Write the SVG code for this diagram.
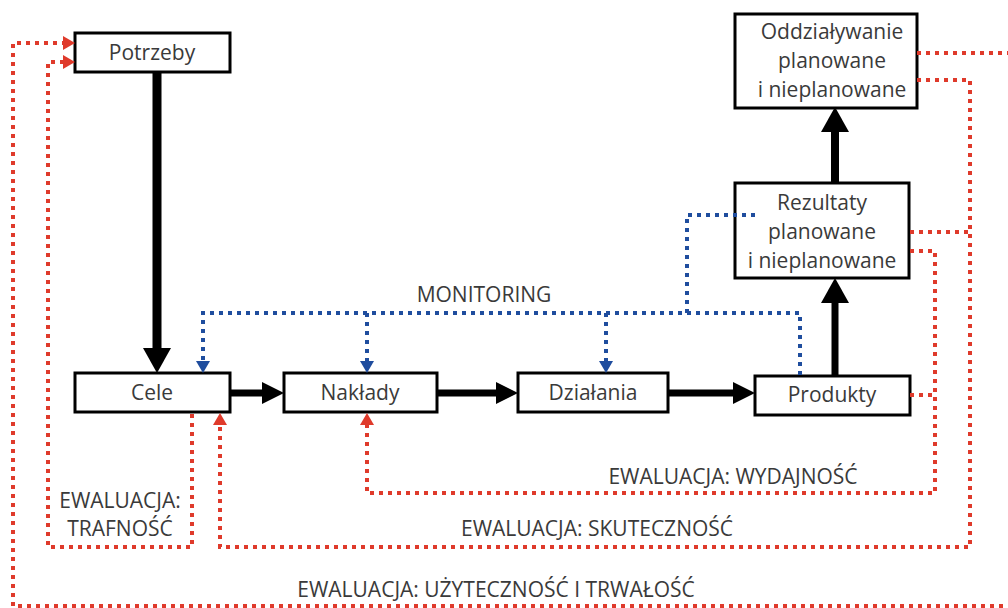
<svg xmlns="http://www.w3.org/2000/svg" width="1008" height="608" viewBox="0 0 1008 608">
<style>
.box{fill:#fff;stroke:#000;stroke-width:3}
.t{font-family:"Open Sans","Noto Sans",sans-serif;font-size:21px;fill:#3a3a3a;text-anchor:middle}
.blk{stroke:#000;fill:none}
.red{stroke:#df3a2b;stroke-width:4;stroke-dasharray:4 5;fill:none}
.blue{stroke:#1f4d9e;stroke-width:4;stroke-dasharray:4 5;fill:none}
</style>
<defs>
<marker id="ahV" markerUnits="userSpaceOnUse" markerWidth="25" markerHeight="28" viewBox="0 0 25 28" refX="0" refY="14" orient="auto"><path d="M0,0 L25,14 L0,28 z" fill="#000"/></marker>
<marker id="ahH" markerUnits="userSpaceOnUse" markerWidth="22" markerHeight="22" viewBox="0 0 22 22" refX="0" refY="11" orient="auto"><path d="M0,0 L22,11 L0,22 z" fill="#000"/></marker>
<marker id="ahR" markerUnits="userSpaceOnUse" markerWidth="12" markerHeight="14" viewBox="0 0 12 14" refX="0" refY="7" orient="auto"><path d="M0,0 L12,7 L0,14 z" fill="#df3a2b"/></marker>
<marker id="ahB" markerUnits="userSpaceOnUse" markerWidth="12" markerHeight="14" viewBox="0 0 12 14" refX="0" refY="7" orient="auto"><path d="M0,0 L12,7 L0,14 z" fill="#1f4d9e"/></marker>
</defs>
<rect width="1008" height="608" fill="#fff"/>
<g id="potrzeby"><rect class="box" x="75" y="33" width="155" height="39"/><text class="t" x="152" y="60">Potrzeby</text></g>
<g id="cele"><rect class="box" x="75" y="373" width="155" height="39"/><text class="t" x="152" y="400">Cele</text></g>
<g id="naklady"><rect class="box" x="284" y="373" width="153" height="39"/><text class="t" x="360" y="400">Nakłady</text></g>
<g id="dzialania"><rect class="box" x="518" y="373" width="150" height="39"/><text class="t" x="593" y="400">Działania</text></g>
<g id="produkty"><rect class="box" x="755" y="376" width="155" height="39"/><text class="t" x="832" y="402">Produkty</text></g>
<g id="rezultaty"><rect class="box" x="735" y="183" width="174" height="95"/><text class="t" x="822" y="210">Rezultaty</text><text class="t" x="822" y="239">planowane</text><text class="t" x="822" y="268">i nieplanowane</text></g>
<g id="oddzialywanie"><rect class="box" x="735" y="14" width="182" height="94"/><text class="t" x="832" y="39">Oddziaływanie</text><text class="t" x="832" y="68">planowane</text><text class="t" x="832" y="97">i nieplanowane</text></g>
<g id="connectors">
<path class="blk" stroke-width="9" d="M157,72 V348" marker-end="url(#ahV)"/>
<path class="blk" stroke-width="7" d="M230,393 H262" marker-end="url(#ahH)"/>
<path class="blk" stroke-width="7" d="M437,393 H496" marker-end="url(#ahH)"/>
<path class="blk" stroke-width="7" d="M668,393 H733" marker-end="url(#ahH)"/>
<path class="blk" stroke-width="7" d="M835,376 V303" marker-end="url(#ahV)"/>
<path class="blk" stroke-width="8" d="M835,183 V132" marker-end="url(#ahV)"/>
<path class="blue" d="M800,375 V313 H203 V361" marker-end="url(#ahB)"/>
<path class="blue" d="M367,313 V361" marker-end="url(#ahB)"/>
<path class="blue" d="M606,313 V361" marker-end="url(#ahB)"/>
<path class="blue" d="M687,313 V215 H757"/>
<path class="red" d="M192,414 V547 H48 V62 H63" marker-end="url(#ahR)"/>
<path class="red" d="M917,53 H1012 V606 H13 V43 H63" marker-end="url(#ahR)"/>
<path class="red" d="M917,80 H970 V547 H220 V425" marker-end="url(#ahR)"/>
<path class="red" d="M910,232 H970"/>
<path class="red" d="M910,251 H935 V493 H367 V425" marker-end="url(#ahR)"/>
<path class="red" d="M910,395 H935"/>
</g>
<g id="labels">
<text class="t" x="484" y="302">MONITORING</text>
<text class="t" x="120" y="508">EWALUACJA:</text>
<text class="t" x="120" y="536">TRAFNOŚĆ</text>
<text class="t" x="733" y="484">EWALUACJA: WYDAJNOŚĆ</text>
<text class="t" x="597" y="536">EWALUACJA: SKUTECZNOŚĆ</text>
<text class="t" x="496" y="597">EWALUACJA: UŻYTECZNOŚĆ I TRWAŁOŚĆ</text>
</g>
</svg>
